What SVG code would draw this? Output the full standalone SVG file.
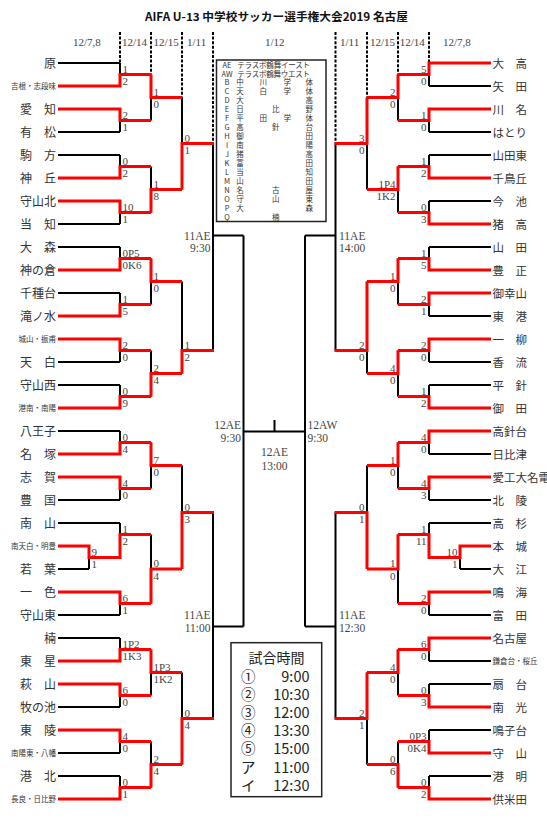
<svg xmlns="http://www.w3.org/2000/svg" width="547" height="823" viewBox="0 0 547 823">
<style>
.k{stroke:#000;stroke-width:2;fill:none}
.r{stroke:#f00;stroke-width:3;fill:none}
.d{stroke:#000;stroke-width:2;stroke-dasharray:3 1.6;fill:none}
.n{font-family:"Noto Sans CJK JP","Noto Sans CJK SC",sans-serif;font-size:12px;fill:#333}
.nr{font-size:11.5px}
.ns{font-size:7.5px}
.s{font-family:"Liberation Serif","Noto Sans CJK JP",serif;font-size:11px;fill:#444}
.e{text-anchor:end}
.m{text-anchor:middle}
.lg{font-family:"Noto Sans CJK JP",sans-serif;font-size:7.5px;fill:#333}
.tb{font-family:"Noto Sans CJK JP",sans-serif;font-size:14.5px;fill:#222}
</style>
<rect width="547" height="823" fill="#fff"/>
<g id="header">
<text x="276.5" y="21" class="n m" style="font-size:11px;font-weight:bold;fill:#111" textLength="263" lengthAdjust="spacingAndGlyphs">AIFA U-13 中学校サッカー選手権大会2019 名古屋</text>
<text class="s" y="46"><tspan x="73">12/7,8</tspan><tspan x="122">12/14</tspan><tspan x="153.6">12/15</tspan><tspan x="187">1/11</tspan><tspan x="265">1/12</tspan><tspan x="340">1/11</tspan><tspan x="370">12/15</tspan><tspan x="399.7">12/14</tspan><tspan x="443">12/7,8</tspan></text>
</g>
<g id="dashes">
<path class="d" d="M120 32V63M151 32V74.5M182 32V97.5M213 32V143.5M429 32V63M398 32V74.5M367 32V97.5M335.5 32V143.5"/>
</g>
<g id="legend">
<rect x="216.5" y="60" width="109.5" height="161.5" fill="#fff" stroke="#222" stroke-width="1.5"/>
<g class="lg">
<text y="67.5"><tspan x="227" class="m">AE</tspan><tspan x="237.3" textLength="72.7">テラスポ鶴舞イースト</tspan></text>
<text y="76.5"><tspan x="227" class="m">AW</tspan><tspan x="237.3" textLength="72.7">テラスポ鶴舞ウエスト</tspan></text>
<text y="85.2" class="m"><tspan x="227">B</tspan><tspan x="240">中</tspan><tspan x="263.3">川</tspan><tspan x="287.3">学</tspan><tspan x="309.3">体</tspan></text>
<text y="94.2" class="m"><tspan x="227">C</tspan><tspan x="240">天</tspan><tspan x="263.3">白</tspan><tspan x="287.3">学</tspan><tspan x="309.3">体</tspan></text>
<text y="103.2" class="m"><tspan x="227">D</tspan><tspan x="240">大</tspan><tspan x="309.3">高</tspan></text>
<text y="112.2" class="m"><tspan x="227">E</tspan><tspan x="240">日</tspan><tspan x="275.7">比</tspan><tspan x="309.3">野</tspan></text>
<text y="121.2" class="m"><tspan x="227">F</tspan><tspan x="240">平</tspan><tspan x="263.3">田</tspan><tspan x="287.3">学</tspan><tspan x="309.3">体</tspan></text>
<text y="130.2" class="m"><tspan x="227">G</tspan><tspan x="240">高</tspan><tspan x="275.7">針</tspan><tspan x="309.3">台</tspan></text>
<text y="139.2" class="m"><tspan x="227">H</tspan><tspan x="240">御</tspan><tspan x="309.3">田</tspan></text>
<text y="148.2" class="m"><tspan x="227">I</tspan><tspan x="240">南</tspan><tspan x="309.3">陽</tspan></text>
<text y="157.2" class="m"><tspan x="227">J</tspan><tspan x="240">猪</tspan><tspan x="309.3">高</tspan></text>
<text y="166.2" class="m"><tspan x="227">K</tspan><tspan x="240">富</tspan><tspan x="309.3">田</tspan></text>
<text y="175.2" class="m"><tspan x="227">L</tspan><tspan x="240">当</tspan><tspan x="309.3">知</tspan></text>
<text y="184.2" class="m"><tspan x="227">M</tspan><tspan x="240">山</tspan><tspan x="309.3">田</tspan></text>
<text y="193.2" class="m"><tspan x="227">N</tspan><tspan x="240">名</tspan><tspan x="275.7">古</tspan><tspan x="309.3">屋</tspan></text>
<text y="202.2" class="m"><tspan x="227">O</tspan><tspan x="240">守</tspan><tspan x="275.7">山</tspan><tspan x="309.3">東</tspan></text>
<text y="211.2" class="m"><tspan x="227">P</tspan><tspan x="240">大</tspan><tspan x="309.3">森</tspan></text>
<text y="220.2" class="m"><tspan x="227">Q</tspan><tspan x="275.7">楠</tspan></text>
</g>
</g>
<g id="connectors">
<path class="k" d="M58 63H120M58 132H120M58 155H120M58 224H120M58 247H120M58 293H120M58 362H120M58 385H120M58 431H120M58 500H120M58 523H120M58 615H120M58 638H120M58 707H120M58 753H120M58 776H120M58 569H89
M120 63V86M120 109V132M120 155V178M120 201V224M120 247V270M120 293V316M120 339V362M120 385V408M120 431V454M120 477V500M120 523V557.5M120 592V615M120 638V661M120 684V707M120 730V753M120 776V799M89 546V569
M151 74.5V120.5M151 166.5V212.5M151 258.5V304.5M151 350.5V396.5M151 442.5V488.5M151 534.5V603.5M151 649.5V695.5M151 741.5V787.5
M182 97.5V189.5M182 281.5V373.5M182 465.5V569M182 672.5V764.5
M213 143.5V350.5M213 512.5V718.5M212 235.5H243.5M212 626.5H243.5
M243.5 235.5V626.5M243.5 431.5H305M274.5 420V431.5M305 235.5V626.5M305 235.5H336.5M305 626.5H336.5
M429 86H491M429 132H491M429 155H491M429 201H491M429 247H491M429 316H491M429 362H491M429 385H491M429 454H491M429 500H491M429 523H491M429 615H491M429 661H491M429 684H491M429 730H491M429 776H491M460 569H491
M429 63V86M429 109V132M429 155V178M429 201V224M429 247V270M429 293V316M429 339V362M429 385V408M429 431V454M429 477V500M429 523V557.5M429 592V615M429 638V661M429 684V707M429 730V753M429 776V799M460 546V569
M398 74.5V120.5M398 166.5V212.5M398 258.5V304.5M398 350.5V396.5M398 442.5V488.5M398 534.5V603.5M398 649.5V695.5M398 741.5V787.5
M367 97.5V189.5M367 281.5V373.5M367 465.5V569M367 672.5V764.5
M335.5 143.5V350.5M335.5 512.5V718.5"/>
<path class="r" d="M58 86H120V74.5H151M58 109H120V120.5H151M58 178H120V166.5H151M58 201H120V212.5H151M58 270H120V258.5H151M58 316H120V304.5H151M58 339H120V350.5H151M58 408H120V396.5H151M58 454H120V442.5H151M58 477H120V488.5H151M58 546H89V557.5H120V534.5H151M58 592H120V603.5H151M58 661H120V649.5H151M58 684H120V695.5H151M58 730H120V741.5H151M58 799H120V787.5H151
M151 74.5V97.5H182M151 212.5V189.5H182M151 258.5V281.5H182M151 396.5V373.5H182M151 442.5V465.5H182M151 603.5V569H182M151 649.5V672.5H182M151 787.5V764.5H182
M182 189.5V143.5H214M182 373.5V350.5H214M182 569V512.5H214M182 764.5V718.5H214
M491 63H429V74.5H398M491 109H429V120.5H398M491 178H429V166.5H398M491 224H429V212.5H398M491 270H429V258.5H398M491 293H429V304.5H398M491 339H429V350.5H398M491 408H429V396.5H398M491 431H429V442.5H398M491 477H429V488.5H398M491 546H460V557.5H429V534.5H398M491 592H429V603.5H398M491 638H429V649.5H398M491 707H429V695.5H398M491 753H429V741.5H398M491 799H429V787.5H398
M398 74.5V97.5H367M398 166.5V189.5H367M398 258.5V281.5H367M398 350.5V373.5H367M398 442.5V465.5H367M398 534.5V569H367M398 649.5V672.5H367M398 787.5V764.5H367
M367 97.5V143.5H334.5M367 281.5V350.5H334.5M367 569V512.5H334.5M367 672.5V718.5H334.5"/>
</g>
<g id="scores" class="s">
<text x="91.5" y="555.5">9</text><text x="91.5" y="568">1</text>
<text x="122.5" y="72.5">1</text><text x="122.5" y="85">2</text>
<text x="122.5" y="118.5">2</text><text x="122.5" y="131">1</text>
<text x="122.5" y="164.5">0</text><text x="122.5" y="177">2</text>
<text x="122.5" y="210.5">10</text><text x="122.5" y="223">1</text>
<text x="122.5" y="256.5">0P5</text><text x="122.5" y="269">0K6</text>
<text x="122.5" y="302.5">1</text><text x="122.5" y="315">5</text>
<text x="122.5" y="348.5">2</text><text x="122.5" y="361">0</text>
<text x="122.5" y="394.5">0</text><text x="122.5" y="407">9</text>
<text x="122.5" y="440.5">0</text><text x="122.5" y="453">4</text>
<text x="122.5" y="486.5">4</text><text x="122.5" y="499">0</text>
<text x="122.5" y="532.5">1</text><text x="122.5" y="545">2</text>
<text x="122.5" y="601.5">6</text><text x="122.5" y="614">1</text>
<text x="122.5" y="647.5">1P2</text><text x="122.5" y="660">1K3</text>
<text x="122.5" y="693.5">6</text><text x="122.5" y="706">0</text>
<text x="122.5" y="739.5">4</text><text x="122.5" y="752">0</text>
<text x="122.5" y="785.5">0</text><text x="122.5" y="798">1</text>
<text x="153.5" y="95.5">1</text><text x="153.5" y="108">0</text>
<text x="153.5" y="187.5">1</text><text x="153.5" y="200">8</text>
<text x="153.5" y="279.5">1</text><text x="153.5" y="292">0</text>
<text x="153.5" y="371.5">2</text><text x="153.5" y="384">4</text>
<text x="153.5" y="463.5">7</text><text x="153.5" y="476">0</text>
<text x="153.5" y="567">0</text><text x="153.5" y="579.5">4</text>
<text x="153.5" y="670.5">1P3</text><text x="153.5" y="683">1K2</text>
<text x="153.5" y="762.5">2</text><text x="153.5" y="775">4</text>
<text x="184.5" y="141.5">0</text><text x="184.5" y="154">1</text>
<text x="184.5" y="348.5">1</text><text x="184.5" y="361">2</text>
<text x="184.5" y="510.5">0</text><text x="184.5" y="523">3</text>
<text x="184.5" y="716.5">0</text><text x="184.5" y="729">4</text>
<g class="e">
<text x="457.5" y="555.5">10</text><text x="457.5" y="568">1</text>
<text x="426.5" y="72.5">5</text><text x="426.5" y="85">0</text>
<text x="426.5" y="118.5">1</text><text x="426.5" y="131">0</text>
<text x="426.5" y="164.5">1</text><text x="426.5" y="177">2</text>
<text x="426.5" y="210.5">0</text><text x="426.5" y="223">3</text>
<text x="426.5" y="256.5">1</text><text x="426.5" y="269">5</text>
<text x="426.5" y="302.5">2</text><text x="426.5" y="315">1</text>
<text x="426.5" y="348.5">2</text><text x="426.5" y="361">0</text>
<text x="426.5" y="394.5">1</text><text x="426.5" y="407">2</text>
<text x="426.5" y="440.5">4</text><text x="426.5" y="453">0</text>
<text x="426.5" y="486.5">4</text><text x="426.5" y="499">3</text>
<text x="426.5" y="532.5">1</text><text x="426.5" y="545">11</text>
<text x="426.5" y="601.5">2</text><text x="426.5" y="614">0</text>
<text x="426.5" y="647.5">6</text><text x="426.5" y="660">0</text>
<text x="426.5" y="693.5">0</text><text x="426.5" y="706">3</text>
<text x="426.5" y="739.5">0P3</text><text x="426.5" y="752">0K4</text>
<text x="426.5" y="785.5">0</text><text x="426.5" y="798">2</text>
<text x="395.5" y="95.5">2</text><text x="395.5" y="108">0</text>
<text x="395.5" y="187.5">1P4</text><text x="395.5" y="200">1K2</text>
<text x="395.5" y="279.5">1</text><text x="395.5" y="292">0</text>
<text x="395.5" y="371.5">4</text><text x="395.5" y="384">0</text>
<text x="395.5" y="463.5">1</text><text x="395.5" y="476">0</text>
<text x="395.5" y="567">1</text><text x="395.5" y="579.5">0</text>
<text x="395.5" y="670.5">4</text><text x="395.5" y="683">0</text>
<text x="395.5" y="762.5">0</text><text x="395.5" y="775">6</text>
<text x="364.5" y="141.5">3</text><text x="364.5" y="154">0</text>
<text x="364.5" y="348.5">2</text><text x="364.5" y="361">0</text>
<text x="364.5" y="510.5">0</text><text x="364.5" y="523">1</text>
<text x="364.5" y="716.5">2</text><text x="364.5" y="729">1</text>
</g>
</g>
<g id="match-labels" class="s" style="font-size:11.5px">
<text x="210.5" y="239.5" class="e">11AE</text><text x="210.5" y="251.5" class="e">9:30</text>
<text x="210.5" y="618.5" class="e">11AE</text><text x="210.5" y="631.5" class="e">11:00</text>
<text x="339" y="239.5">11AE</text><text x="339" y="251.5">14:00</text>
<text x="339" y="618.5">11AE</text><text x="339" y="631.5">12:30</text>
<text x="241" y="429" class="e">12AE</text><text x="241" y="441.5" class="e">9:30</text>
<text x="307.5" y="429">12AW</text><text x="307.5" y="441.5">9:30</text>
<text x="274.5" y="456" class="m">12AE</text><text x="274.5" y="470" class="m">13:00</text>
</g>
<g id="teams-left" class="n e">
<g id="t-hara"><text x="56" y="67.5">原</text></g>
<g id="t-kine"><text x="56" y="88.8" class="ns">吉根・志段味</text></g>
<g id="t-aichi"><text x="56" y="113.5">愛　知</text></g>
<g id="t-arimatsu"><text x="56" y="136.5">有　松</text></g>
<g id="t-komagata"><text x="56" y="159.5">駒　方</text></g>
<g id="t-kamioka"><text x="56" y="182.5">神　丘</text></g>
<g id="t-moriyamakita"><text x="56" y="205.5">守山北</text></g>
<g id="t-tochi"><text x="56" y="228.5">当　知</text></g>
<g id="t-omori"><text x="56" y="251.5">大　森</text></g>
<g id="t-kaminokura"><text x="56" y="274.5">神の倉</text></g>
<g id="t-chikusadai"><text x="56" y="297.5">千種台</text></g>
<g id="t-takinomizu"><text x="56" y="320.5">滝ノ水</text></g>
<g id="t-shiroyama"><text x="56" y="341.8" class="ns">城山・振甫</text></g>
<g id="t-tenpaku"><text x="56" y="366.5">天　白</text></g>
<g id="t-moriyamanishi"><text x="56" y="389.5">守山西</text></g>
<g id="t-konan"><text x="56" y="410.8" class="ns">港南・南陽</text></g>
<g id="t-hachioji"><text x="56" y="435.5">八王子</text></g>
<g id="t-nazuka"><text x="56" y="458.5">名　塚</text></g>
<g id="t-shiga"><text x="56" y="481.5">志　賀</text></g>
<g id="t-toyokuni"><text x="56" y="504.5">豊　国</text></g>
<g id="t-nanzan"><text x="56" y="527.5">南　山</text></g>
<g id="t-minamitenpaku"><text x="56" y="548.8" class="ns">南天白・明豊</text></g>
<g id="t-wakaba"><text x="56" y="573.5">若　葉</text></g>
<g id="t-isshiki"><text x="56" y="596.5">一　色</text></g>
<g id="t-moriyamahigashi"><text x="56" y="619.5">守山東</text></g>
<g id="t-kusunoki"><text x="56" y="642.5">楠</text></g>
<g id="t-tosei"><text x="56" y="665.5">東　星</text></g>
<g id="t-hagiyama"><text x="56" y="688.5">萩　山</text></g>
<g id="t-makinoike"><text x="56" y="711.5">牧の池</text></g>
<g id="t-toryo"><text x="56" y="734.5">東　陵</text></g>
<g id="t-nanyohigashi"><text x="56" y="755.8" class="ns">南陽東・八幡</text></g>
<g id="t-kohoku"><text x="56" y="780.5">港　北</text></g>
<g id="t-nagara"><text x="56" y="801.8" class="ns">長良・日比野</text></g>
</g>
<g id="teams-right" class="n nr">
<g id="t-odaka"><text x="492.5" y="67.5">大　高</text></g>
<g id="t-yada"><text x="492.5" y="90.5">矢　田</text></g>
<g id="t-kawana"><text x="492.5" y="113.5">川　名</text></g>
<g id="t-hatori"><text x="492.5" y="136.5">はとり</text></g>
<g id="t-yamadahigashi"><text x="492.5" y="159.5">山田東</text></g>
<g id="t-chidorigaoka"><text x="492.5" y="182.5">千鳥丘</text></g>
<g id="t-imaike"><text x="492.5" y="205.5">今　池</text></g>
<g id="t-inodaka"><text x="492.5" y="228.5">猪　高</text></g>
<g id="t-yamada"><text x="492.5" y="251.5">山　田</text></g>
<g id="t-hosho"><text x="492.5" y="274.5">豊　正</text></g>
<g id="t-gokoyama"><text x="492.5" y="297.5">御幸山</text></g>
<g id="t-toko"><text x="492.5" y="320.5">東　港</text></g>
<g id="t-hitotsuyanagi"><text x="492.5" y="343.5">一　柳</text></g>
<g id="t-koryu"><text x="492.5" y="366.5">香　流</text></g>
<g id="t-hirabari"><text x="492.5" y="389.5">平　針</text></g>
<g id="t-mida"><text x="492.5" y="412.5">御　田</text></g>
<g id="t-takabaridai"><text x="492.5" y="435.5">高針台</text></g>
<g id="t-hibitsu"><text x="492.5" y="458.5">日比津</text></g>
<g id="t-meiden"><text x="492.5" y="481.5">愛工大名電</text></g>
<g id="t-hokuryo"><text x="492.5" y="504.5">北　陵</text></g>
<g id="t-takasugi"><text x="492.5" y="527.5">高　杉</text></g>
<g id="t-honjo"><text x="492.5" y="550.5">本　城</text></g>
<g id="t-oe"><text x="492.5" y="573.5">大　江</text></g>
<g id="t-narumi"><text x="492.5" y="596.5">鳴　海</text></g>
<g id="t-tomida"><text x="492.5" y="619.5">富　田</text></g>
<g id="t-nagoya"><text x="492.5" y="642.5">名古屋</text></g>
<g id="t-kamakuradai"><text x="492.5" y="663.8" class="ns">鎌倉台・桜丘</text></g>
<g id="t-ogidai"><text x="492.5" y="688.5">扇　台</text></g>
<g id="t-nanko"><text x="492.5" y="711.5">南　光</text></g>
<g id="t-narukodai"><text x="492.5" y="734.5">鳴子台</text></g>
<g id="t-moriyama"><text x="492.5" y="757.5">守　山</text></g>
<g id="t-komei"><text x="492.5" y="780.5">港　明</text></g>
<g id="t-kumaida"><text x="492.5" y="803.5">供米田</text></g>
</g>
<g id="time-table">
<rect x="231" y="642.7" width="90.7" height="154" fill="#fff" stroke="#222" stroke-width="1.5"/>
<text x="276.5" y="663" class="tb m" style="font-size:14px">試合時間</text>
<g class="tb">
<text x="241" y="681.5">①</text><text x="309.5" y="681.5" class="e">9:00</text>
<text x="241" y="699.5">②</text><text x="309.5" y="699.5" class="e">10:30</text>
<text x="241" y="717.5">③</text><text x="309.5" y="717.5" class="e">12:00</text>
<text x="241" y="736">④</text><text x="309.5" y="736" class="e">13:30</text>
<text x="241" y="754">⑤</text><text x="309.5" y="754" class="e">15:00</text>
<text x="241" y="772.5">ア</text><text x="309.5" y="772.5" class="e">11:00</text>
<text x="241" y="790.5">イ</text><text x="309.5" y="790.5" class="e">12:30</text>
</g>
</g>
</svg>
